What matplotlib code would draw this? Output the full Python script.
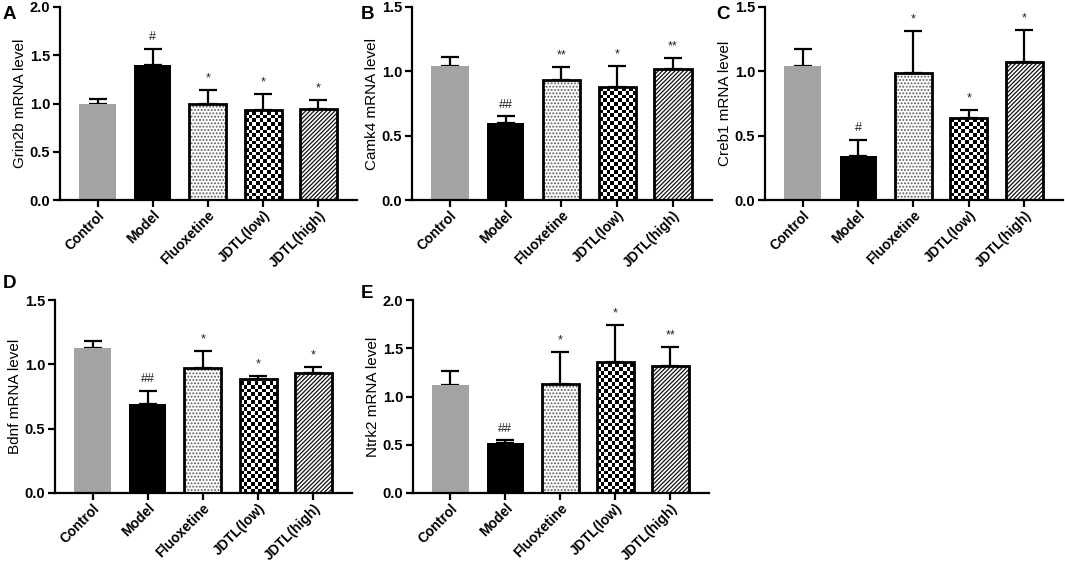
import numpy as np
import matplotlib
matplotlib.use("Agg")
import matplotlib.pyplot as plt

plt.rcParams["font.family"] = ["Liberation Sans", "DejaVu Sans"]
plt.rcParams["hatch.linewidth"] = 0.9

groups = ["Control", "Model", "Fluoxetine", "JDTL(low)", "JDTL(high)"]

grin2b_mean = [1.00, 1.40, 1.00, 0.93, 0.945]
grin2b_err = [0.045, 0.165, 0.14, 0.17, 0.09]
grin2b_sig = ["", "#", "*", "*", "*"]

camk4_mean = [1.04, 0.60, 0.93, 0.88, 1.02]
camk4_err = [0.075, 0.05, 0.105, 0.165, 0.08]
camk4_sig = ["", "##", "**", "*", "**"]

creb1_mean = [1.045, 0.34, 0.985, 0.635, 1.075]
creb1_err = [0.13, 0.13, 0.325, 0.065, 0.25]
creb1_sig = ["", "#", "*", "*", "*"]

bdnf_mean = [1.125, 0.695, 0.975, 0.887, 0.933]
bdnf_err = [0.057, 0.10, 0.128, 0.022, 0.05]
bdnf_sig = ["", "##", "*", "*", "*"]

ntrk2_mean = [1.117, 0.514, 1.128, 1.362, 1.314]
ntrk2_err = [0.145, 0.034, 0.334, 0.376, 0.196]
ntrk2_sig = ["", "##", "*", "*", "**"]

panels = [
    ("A", "Grin2b mRNA level", grin2b_mean, grin2b_err, grin2b_sig, 2.0),
    ("B", "Camk4 mRNA level", camk4_mean, camk4_err, camk4_sig, 1.5),
    ("C", "Creb1 mRNA level", creb1_mean, creb1_err, creb1_sig, 1.5),
    ("D", "Bdnf mRNA level", bdnf_mean, bdnf_err, bdnf_sig, 1.5),
    ("E", "Ntrk2 mRNA level", ntrk2_mean, ntrk2_err, ntrk2_sig, 2.0),
]

W, H = 1065, 567
# axes boxes in pixels: left, right, top, bottom
boxes = [
    (60, 357, 7, 200),
    (412, 712, 7, 200),
    (765, 1063, 7, 200),
    (55, 352, 300, 493),
    (413, 709, 300, 493),
]
letters_xy = [(3, 6), (361, 6), (716, 6), (3, 275), (361, 285)]

GRAY = "#a3a3a3"
BW = 0.67


def checker_fill(ax, bar, sq_px=3.7):
    x0, y0 = bar.get_x(), bar.get_y()
    w, h = bar.get_width(), bar.get_height()
    p0 = ax.transData.transform((x0, y0))
    p1 = ax.transData.transform((x0 + w, y0 + h))
    wpx, hpx = p1[0] - p0[0], p1[1] - p0[1]
    ncols = max(1, int(round(wpx / sq_px)))
    sq = wpx / ncols
    nrows = int(np.ceil(hpx / sq))
    grid = np.indices((nrows, ncols)).sum(axis=0) % 2
    top = y0 + nrows * sq * h / hpx
    im = ax.imshow(grid, cmap="gray_r", vmin=0, vmax=1, origin="lower",
                   extent=(x0, x0 + w, y0, top), aspect="auto",
                   interpolation="nearest", zorder=1.5)
    im.set_clip_path(bar)


fig = plt.figure(figsize=(W / 100, H / 100), dpi=100)

for (letter, ylabel, mean, err, sig, ymax), (l, r, t, b), (lx, ly) in zip(panels, boxes, letters_xy):
    ax = fig.add_axes([l / W, (H - b) / H, (r - l) / W, (b - t) / H])
    x = np.arange(len(groups))
    ax.set_xlim(-0.68, len(groups) - 0.3)
    ax.set_ylim(0, ymax)

    # error bars (upper only)
    ax.errorbar(x, mean, yerr=[np.zeros(len(err)), err], fmt="none",
                ecolor="black", elinewidth=1.6, capsize=6.5, capthick=1.6, zorder=0.8)

    ax.bar(x[0], mean[0], BW, color=GRAY, edgecolor="none", zorder=1)
    ax.bar(x[1], mean[1], BW, color="black", edgecolor="none", zorder=1)
    # fluoxetine: dots
    ax.bar(x[2], mean[2], BW, color="white", edgecolor="#5a5a5a", linewidth=0,
           hatch=".....", zorder=1)
    # JDTL(low): checkerboard
    low = ax.bar(x[3], mean[3], BW, color="white", edgecolor="none", zorder=1)[0]
    checker_fill(ax, low)
    # JDTL(high): diagonal lines
    ax.bar(x[4], mean[4], BW, color="white", edgecolor="#111111", linewidth=0,
           hatch="////////", zorder=1)
    ax.bar(x[2:], mean[2:], BW, fill=False, edgecolor="black", linewidth=2.0, zorder=2)

    for xi, m, e, s in zip(x, mean, err, sig):
        if s:
            ax.annotate(s, (xi, m + e), xytext=(0, 4), textcoords="offset points",
                        ha="center", va="bottom", fontsize=9, color="#222222")

    for side in ("top", "right"):
        ax.spines[side].set_visible(False)
    for side in ("left", "bottom"):
        ax.spines[side].set_linewidth(1.6)
    ticks = np.arange(0, ymax + 0.01, 0.5)
    ax.set_yticks(ticks)
    ax.set_yticklabels([f"{v:.1f}" for v in ticks], fontweight="bold", fontsize=10.5)
    ax.set_xticks(x)
    ax.set_xticklabels(groups, rotation=45, ha="right", rotation_mode="anchor",
                       fontweight="bold", fontsize=10)
    ax.tick_params(width=1.6, length=5, direction="out", pad=2)
    ax.tick_params(axis="x", pad=1)
    ax.set_ylabel(ylabel, fontsize=11, labelpad=2)

    fig.text(lx / W, 1 - ly / H, letter, fontsize=13.5, fontweight="bold",
             ha="left", va="top")

fig.savefig("out.png", dpi=100)
